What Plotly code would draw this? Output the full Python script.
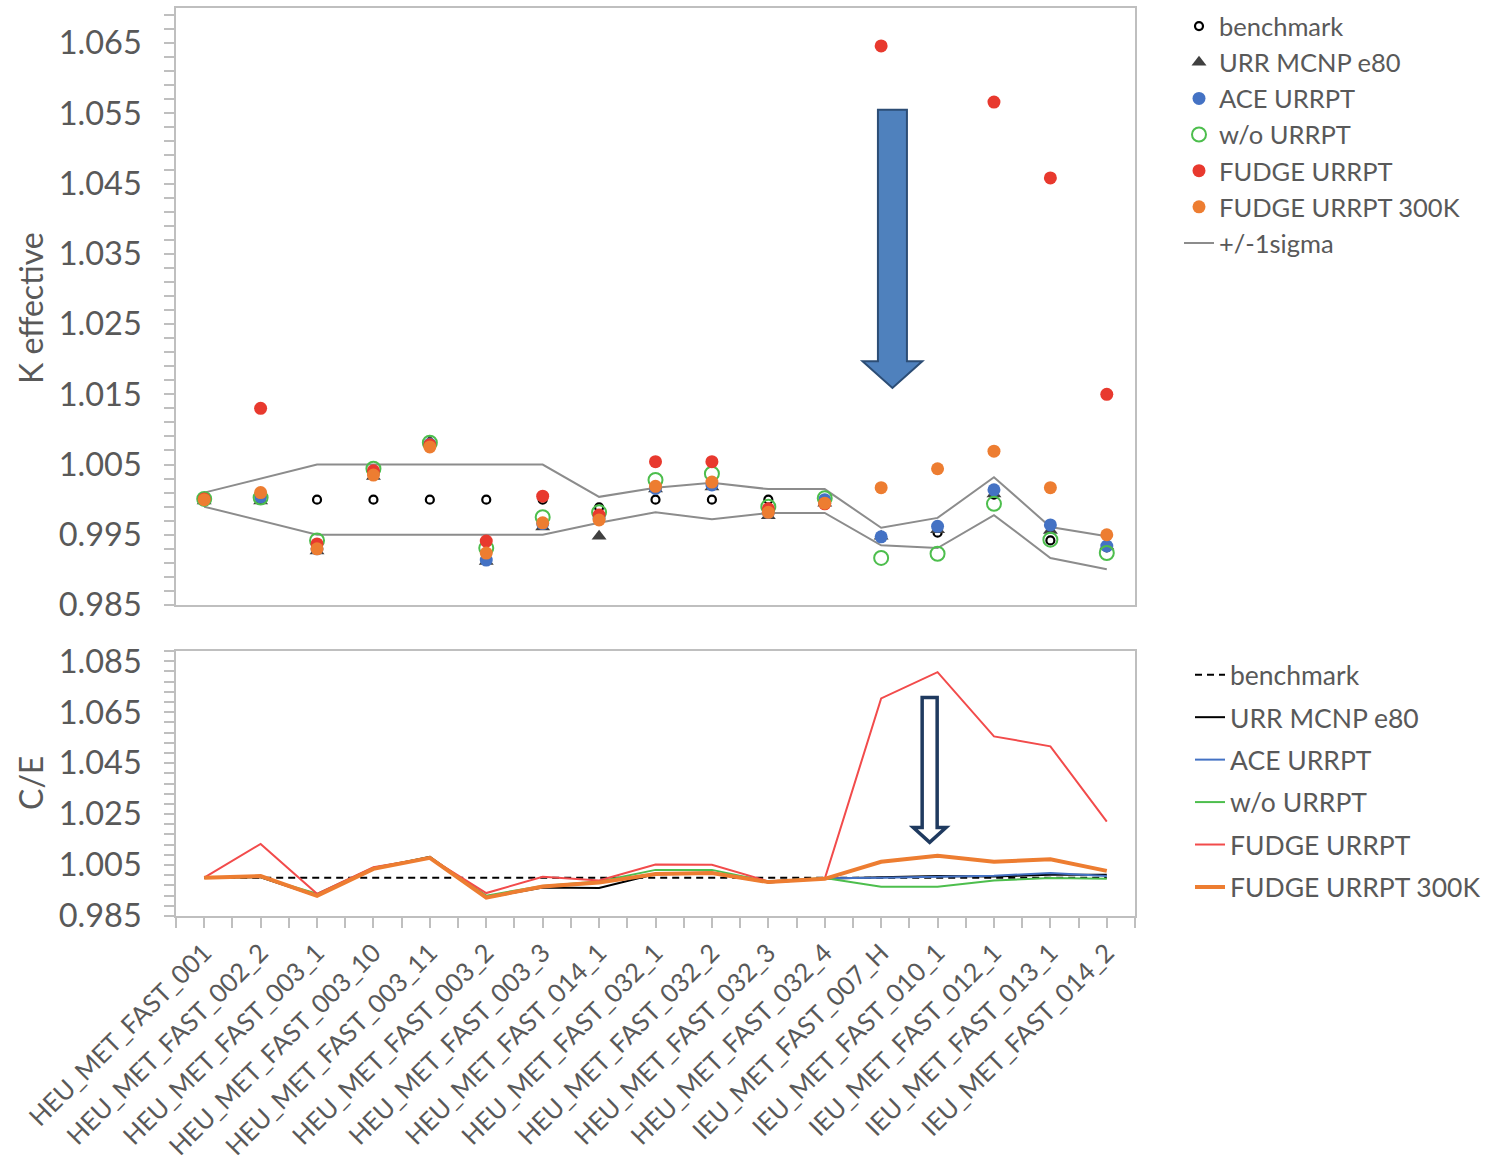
import plotly.graph_objects as go

cases = ["HEU_MET_FAST_001", "HEU_MET_FAST_002_2", "HEU_MET_FAST_003_1", "HEU_MET_FAST_003_10",
         "HEU_MET_FAST_003_11", "HEU_MET_FAST_003_2", "HEU_MET_FAST_003_3", "HEU_MET_FAST_014_1",
         "HEU_MET_FAST_032_1", "HEU_MET_FAST_032_2", "HEU_MET_FAST_032_3", "HEU_MET_FAST_032_4",
         "IEU_MET_FAST_007_H", "IEU_MET_FAST_010_1", "IEU_MET_FAST_012_1", "IEU_MET_FAST_013_1",
         "IEU_MET_FAST_014_2"]

# K effective (top panel)
k_bench = [1.0000, 1.0000, 1.0000, 1.0000, 1.0000, 1.0000, 1.0000, 0.9989, 1.0000, 1.0000,
           1.0000, 1.0000, 0.9948, 0.9953, 1.0007, 0.9942, 0.9932]
k_urr = [0.9998, 0.9998, 0.9927, 1.0033, 1.0083, 0.9912, 0.9961, 0.9948, 1.0015, 1.0018,
         0.9977, 0.9995, 0.9948, 0.9957, 1.0008, 0.9956, 0.9934]
k_ace = [1.0000, 1.0004, 0.9930, 1.0038, 1.0079, 0.9914, 0.9966, 0.9974, 1.0016, 1.0021,
         0.9982, 1.0000, 0.9947, 0.9962, 1.0014, 0.9964, 0.9934]
k_wo = [1.0001, 1.0003, 0.9942, 1.0044, 1.0081, 0.9931, 0.9975, 0.9982, 1.0028, 1.0037,
        0.9990, 1.0002, 0.9917, 0.9923, 0.9994, 0.9943, 0.9924]
k_fudge = [1.0001, 1.0130, 0.9937, 1.0041, 1.0078, 0.9941, 1.0005, 0.9978, 1.0054, 1.0054,
           0.9987, 0.9994, 1.0646, 1.0756, 1.0566, 1.0458, 1.0150]
k_fudge300 = [1.0000, 1.0010, 0.9930, 1.0035, 1.0075, 0.9924, 0.9967, 0.9971, 1.0019, 1.0025,
              0.9982, 0.9995, 1.0017, 1.0044, 1.0069, 1.0017, 0.9950]
sigma_upper = [1.0010, 1.0030, 1.0050, 1.0050, 1.0050, 1.0050, 1.0050, 1.0004, 1.0017, 1.0024,
               1.0015, 1.0015, 0.9960, 0.9974, 1.0032, 0.9961, 0.9948]
sigma_lower = [0.9990, 0.9970, 0.9950, 0.9950, 0.9950, 0.9950, 0.9950, 0.9967, 0.9982, 0.9972,
               0.9981, 0.9981, 0.9935, 0.9931, 0.9978, 0.9917, 0.9901]

# C/E (bottom panel)
ce_bench = [1.0] * 17
ce_urr = [1.0000, 1.0002, 0.9929, 1.0036, 1.0082, 0.9922, 0.9962, 0.9960, 1.0015, 1.0018,
          0.9982, 0.9996, 1.0002, 1.0007, 1.0005, 1.0012, 1.0012]
ce_ace = [1.0000, 1.0004, 0.9931, 1.0038, 1.0079, 0.9925, 0.9966, 0.9983, 1.0016, 1.0021,
          0.9984, 0.9998, 1.0000, 1.0003, 1.0008, 1.0019, 1.0007]
ce_wo = [1.0001, 1.0003, 0.9937, 1.0040, 1.0080, 0.9930, 0.9968, 0.9985, 1.0031, 1.0031,
         0.9985, 0.9999, 0.9965, 0.9965, 0.9989, 0.9999, 0.9996]
ce_fudge = [1.0001, 1.0133, 0.9937, 1.0041, 1.0078, 0.9940, 1.0004, 0.9989, 1.0052, 1.0051,
            0.9986, 0.9996, 1.0704, 1.0807, 1.0555, 1.0516, 1.0220]
ce_fudge300 = [1.0000, 1.0007, 0.9929, 1.0035, 1.0078, 0.9922, 0.9966, 0.9981, 1.0015, 1.0019,
               0.9983, 0.9996, 1.0063, 1.0086, 1.0063, 1.0073, 1.0027]

# arrow annotation geometry (category units / axis values)
arrow1 = dict(xc=12.2, shaft_hw=0.257, head_hw=0.53, top=1.0555, head_base=1.0197, tip=1.0159)
arrow2 = dict(xc=12.86, shaft_hw=0.133, head_hw=0.29, top=1.0708, head_base=1.0197, tip=1.0139)

FONT = "Lato"
TXT = "#595959"
C_BLUE = "#4472C4"
C_GREEN = "#4DBE4D"
C_RED = "#E8392E"
C_ORANGE = "#ED7D31"

x = list(range(len(cases)))
fig = go.Figure()

# top panel
fig.add_trace(go.Scatter(x=x, y=sigma_upper, mode="lines", line=dict(color="#8C8C8C", width=2),
                         name="+/-1sigma", legendrank=7, xaxis="x", yaxis="y", legend="legend"))
fig.add_trace(go.Scatter(x=x, y=sigma_lower, mode="lines", line=dict(color="#8C8C8C", width=2),
                         name="+/-1sigma", showlegend=False, xaxis="x", yaxis="y"))
fig.add_trace(go.Scatter(x=x, y=k_bench, mode="markers", name="benchmark", legendrank=1,
                         marker=dict(symbol="circle-open", size=8, color="black", line=dict(width=2.2)),
                         xaxis="x", yaxis="y", legend="legend"))
fig.add_trace(go.Scatter(x=x, y=k_urr, mode="markers", name="URR MCNP e80", legendrank=2,
                         marker=dict(symbol="triangle-up", size=13, color="#404040"),
                         xaxis="x", yaxis="y", legend="legend"))
fig.add_trace(go.Scatter(x=x, y=k_ace, mode="markers", name="ACE URRPT", legendrank=3,
                         marker=dict(symbol="circle", size=13, color=C_BLUE),
                         xaxis="x", yaxis="y", legend="legend"))
fig.add_trace(go.Scatter(x=x, y=k_wo, mode="markers", name="w/o URRPT", legendrank=4,
                         marker=dict(symbol="circle-open", size=14, color=C_GREEN, line=dict(width=2)),
                         xaxis="x", yaxis="y", legend="legend"))
fig.add_trace(go.Scatter(x=x, y=k_fudge, mode="markers", name="FUDGE URRPT", legendrank=5,
                         marker=dict(symbol="circle", size=13, color=C_RED),
                         xaxis="x", yaxis="y", legend="legend"))
fig.add_trace(go.Scatter(x=x, y=k_fudge300, mode="markers", name="FUDGE URRPT 300K", legendrank=6,
                         marker=dict(symbol="circle", size=13, color=C_ORANGE),
                         xaxis="x", yaxis="y", legend="legend"))

# bottom panel
bottom = [
    ("benchmark", ce_bench, dict(color="black", width=2, dash="7px,5px")),
    ("URR MCNP e80", ce_urr, dict(color="black", width=2)),
    ("ACE URRPT", ce_ace, dict(color=C_BLUE, width=2)),
    ("w/o URRPT", ce_wo, dict(color=C_GREEN, width=2)),
    ("FUDGE URRPT", ce_fudge, dict(color="#F24B4B", width=2)),
    ("FUDGE URRPT 300K", ce_fudge300, dict(color=C_ORANGE, width=4)),
]
for name, vals, ln in bottom:
    fig.add_trace(go.Scatter(x=x, y=vals, mode="lines", name=name, line=ln,
                             xaxis="x2", yaxis="y2", legend="legend2", legendgroup="b_" + name))


def arrow_path(a):
    xc = a["xc"]
    s = a["shaft_hw"]
    h = a["head_hw"]
    return (f"M {xc - s},{a['top']} L {xc + s},{a['top']} L {xc + s},{a['head_base']} "
            f"L {xc + h},{a['head_base']} L {xc},{a['tip']} L {xc - h},{a['head_base']} "
            f"L {xc - s},{a['head_base']} Z")


fig.add_shape(type="path", path=arrow_path(arrow1), xref="x", yref="y",
              fillcolor="#4F81BD", line=dict(color="#2C4D75", width=2))
fig.add_shape(type="path", path=arrow_path(arrow2), xref="x2", yref="y2",
              fillcolor="white", line=dict(color="#1F3A5F", width=3.5))

xdom = [176 / 1497, 1135 / 1497]
frame = "#BFBFBF"
common_x = dict(range=[-0.5, 16.5], domain=xdom, showgrid=False, zeroline=False,
                showline=True, linecolor=frame, linewidth=1.5, mirror=True, automargin=False)

fig.update_layout(
    width=1497, height=1163,
    margin=dict(l=0, r=0, t=0, b=0, autoexpand=False),
    paper_bgcolor="white", plot_bgcolor="white",
    font=dict(family=FONT, color=TXT, size=26),
    xaxis=dict(**common_x, anchor="y", showticklabels=False, ticks=""),
    yaxis=dict(domain=[1 - 605 / 1163, 1 - 8 / 1163], range=[0.985, 1.070], anchor="x",
               tickmode="linear", tick0=0.985, dtick=0.01, tickformat=".3f",
               ticks="outside", ticklen=10, tickcolor=frame, tickwidth=1.5,
               tickfont=dict(family=FONT, size=32.5, color=TXT), ticklabelstandoff=16,
               minor=dict(tickmode="linear", tick0=0.985, dtick=0.002, ticks="outside",
                          ticklen=10, tickcolor=frame, tickwidth=1.5),
               showgrid=False, zeroline=False, showline=True, linecolor=frame, linewidth=1.5,
               mirror=True, automargin=False),
    xaxis2=dict(**common_x, anchor="y2", tickmode="array", tickvals=x, ticktext=cases,
                tickangle=-45, ticks="outside", ticklen=10, tickcolor=frame, tickwidth=1.5,
                tickfont=dict(family=FONT, size=25.5, color=TXT), ticklabelstandoff=0,
                minor=dict(tickmode="linear", tick0=-0.5, dtick=1, ticks="outside",
                           ticklen=10, tickcolor=frame, tickwidth=1.5)),
    yaxis2=dict(domain=[1 - 916 / 1163, 1 - 651 / 1163], range=[0.985, 1.089], anchor="x2",
                tickmode="linear", tick0=0.985, dtick=0.02, tickformat=".3f",
                ticks="outside", ticklen=10, tickcolor=frame, tickwidth=1.5,
                tickfont=dict(family=FONT, size=32.5, color=TXT), ticklabelstandoff=16,
                minor=dict(tickmode="linear", tick0=0.985, dtick=0.004, ticks="outside",
                           ticklen=10, tickcolor=frame, tickwidth=1.5),
                showgrid=False, zeroline=False, showline=True, linecolor=frame, linewidth=1.5,
                mirror=True, automargin=False),
    legend=dict(x=1179 / 1497, y=1 - 3 / 1163, xanchor="left", yanchor="top",
                font=dict(family=FONT, size=25.5, color=TXT), bgcolor="rgba(0,0,0,0)",
                traceorder="normal", itemsizing="trace"),
    legend2=dict(x=1190 / 1497, y=1 - 651 / 1163, xanchor="left", yanchor="top",
                 font=dict(family=FONT, size=26.5, color=TXT), bgcolor="rgba(0,0,0,0)",
                 traceorder="grouped", tracegroupgap=5),
    showlegend=True,
    annotations=[
        dict(text="K effective", x=30 / 1497, y=1 - 308 / 1163, xref="paper", yref="paper",
             xanchor="center", yanchor="middle",
             textangle=-90, showarrow=False, font=dict(family=FONT, size=32, color=TXT)),
        dict(text="C/E", x=30 / 1497, y=1 - 783 / 1163, xref="paper", yref="paper",
             xanchor="center", yanchor="middle",
             textangle=-90, showarrow=False, font=dict(family=FONT, size=32, color=TXT)),
    ],
)

fig.write_html("out.html")
